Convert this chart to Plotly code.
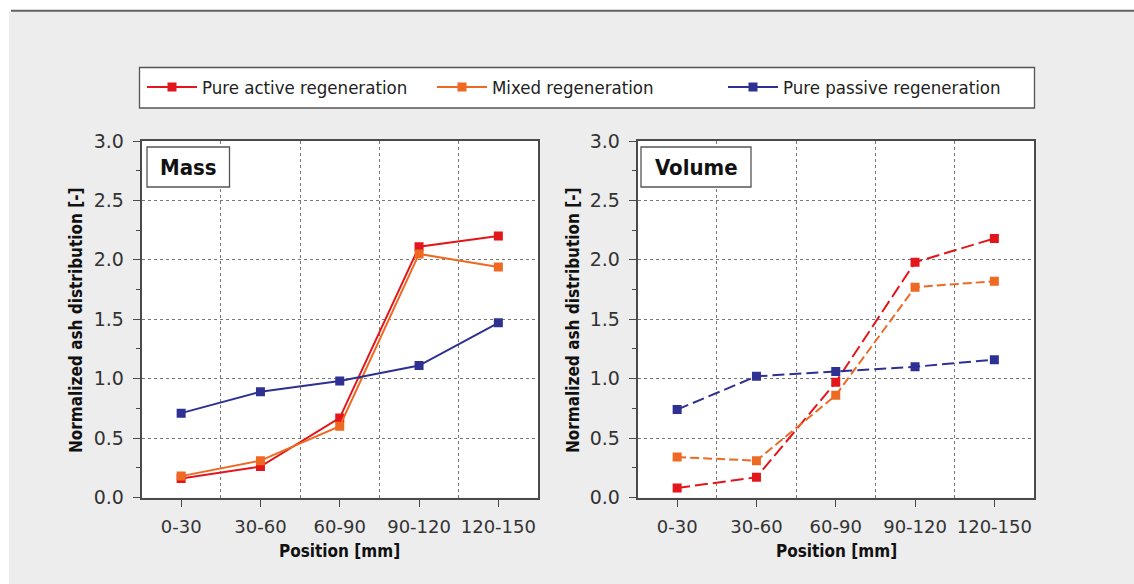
import plotly.graph_objects as go

W, H = 1134, 584

# ---------------- data ----------------
positions = ["0-30", "30-60", "60-90", "90-120", "120-150"]

mass_active = [0.16, 0.26, 0.67, 2.11, 2.20]
mass_mixed = [0.18, 0.31, 0.60, 2.05, 1.94]
mass_passive = [0.71, 0.89, 0.98, 1.11, 1.47]

vol_active = [0.08, 0.17, 0.97, 1.98, 2.18]
vol_mixed = [0.34, 0.31, 0.86, 1.77, 1.82]
vol_passive = [0.74, 1.02, 1.06, 1.10, 1.16]

series_names = ["Pure active regeneration", "Mixed regeneration", "Pure passive regeneration"]
series_colors = ["#e3161b", "#ee6a22", "#2e3192"]
vol_dashes = ["13px,5px", "9px,4px", "12px,5px"]

y_ticks = [0.0, 0.5, 1.0, 1.5, 2.0, 2.5, 3.0]

# ---------------- helpers ----------------
def px(x):
    return x / W


def py(y):
    return 1 - y / H


COND = "DejaVu Sans Condensed, Liberation Sans Narrow, Arial Narrow, sans-serif"
REG = "DejaVu Sans, Liberation Sans, Arial, sans-serif"
AXC = "#4a4a4a"

xidx = list(range(len(positions)))

fig = go.Figure()

legends = ["legend", "legend2", "legend3"]
mass_data = [mass_active, mass_mixed, mass_passive]
vol_data = [vol_active, vol_mixed, vol_passive]

for i in range(3):
    fig.add_trace(go.Scatter(
        x=xidx, y=mass_data[i], mode="lines+markers", name=series_names[i],
        line=dict(color=series_colors[i], width=2),
        marker=dict(symbol="square", size=9, color=series_colors[i]),
        xaxis="x", yaxis="y", legend=legends[i], showlegend=True,
    ))
for i in range(3):
    fig.add_trace(go.Scatter(
        x=xidx, y=vol_data[i], mode="lines+markers", name=series_names[i],
        line=dict(color=series_colors[i], width=2, dash=vol_dashes[i]),
        marker=dict(symbol="square", size=9, color=series_colors[i]),
        xaxis="x2", yaxis="y2", showlegend=False,
    ))

# axes
ydom = [py(497.5), py(141)]
x1dom = [px(141.5), px(538)]
x2dom = [px(637.5), px(1034)]

def xaxis(dom, anchor):
    return dict(
        domain=dom, anchor=anchor, range=[-0.5, len(positions) - 0.5],
        tickmode="array", tickvals=xidx, ticktext=positions,
        ticks="outside", ticklen=8, tickwidth=1.2, tickcolor=AXC,
        showline=True, linecolor=AXC, linewidth=1.6, mirror=True,
        showgrid=False, zeroline=False, automargin=False,
        tickfont=dict(family=REG, size=18, color="#333333"),
        ticklabelstandoff=4,
        minor=dict(tickvals=[k + 0.5 for k in xidx[:-1]], showgrid=True,
                   gridcolor="#777777", griddash="dot", gridwidth=1, ticks=""),
        fixedrange=True,
    )

def yaxis(anchor):
    return dict(
        domain=ydom, anchor=anchor, range=[0, 3],
        tickmode="array", tickvals=y_ticks, tickformat=".1f",
        ticks="outside", ticklen=7, tickwidth=1.2, tickcolor=AXC,
        showline=True, linecolor=AXC, linewidth=1.6, mirror=True,
        showgrid=True, gridcolor="#777777", griddash="dot", gridwidth=1,
        zeroline=False, automargin=False,
        tickfont=dict(family=REG, size=19, color="#333333"),
        ticklabelstandoff=5,
        minor=dict(dtick=0.25, tick0=0, ticks="outside", ticklen=4,
                   tickwidth=1.2, tickcolor=AXC, showgrid=False),
        fixedrange=True,
    )

shapes = [
    # grey panel
    dict(type="rect", xref="paper", yref="paper", x0=px(9), x1=1, y0=0, y1=py(11),
         fillcolor="#ededed", line=dict(width=0), layer="below"),
    # top rule
    dict(type="line", xref="paper", yref="paper", x0=px(11), x1=1, y0=py(10.8), y1=py(10.8),
         line=dict(color="#606060", width=2), layer="below"),
    # plot backgrounds
    dict(type="rect", xref="paper", yref="paper", x0=x1dom[0], x1=x1dom[1], y0=ydom[0], y1=ydom[1],
         fillcolor="white", line=dict(width=0), layer="below"),
    dict(type="rect", xref="paper", yref="paper", x0=x2dom[0], x1=x2dom[1], y0=ydom[0], y1=ydom[1],
         fillcolor="white", line=dict(width=0), layer="below"),
    # legend box
    dict(type="rect", xref="paper", yref="paper", x0=px(139.5), x1=px(1034.5), y0=py(108), y1=py(67.5),
         fillcolor="white", line=dict(color="#555555", width=1.3), layer="below"),
    # label boxes
    dict(type="rect", xref="paper", yref="paper", x0=px(147), x1=px(229.5), y0=py(187), y1=py(147),
         fillcolor="white", line=dict(color="#555555", width=1.3), layer="above"),
    dict(type="rect", xref="paper", yref="paper", x0=px(641), x1=px(751), y0=py(187), y1=py(147),
         fillcolor="white", line=dict(color="#555555", width=1.3), layer="above"),
]

annotations = [
    dict(text="<b>Mass</b>", xref="paper", yref="paper", x=px(188.5), y=py(167),
         xanchor="center", yanchor="middle", showarrow=False,
         font=dict(family=COND, size=22, color="#111111")),
    dict(text="<b>Volume</b>", xref="paper", yref="paper", x=px(696), y=py(167),
         xanchor="center", yanchor="middle", showarrow=False,
         font=dict(family=COND, size=22, color="#111111")),
    dict(text="<b>Normalized ash distribution [-]</b>", xref="paper", yref="paper",
         x=px(76), y=py(320), textangle=-90, xanchor="center", yanchor="middle",
         showarrow=False, font=dict(family=COND, size=17, color="#111111")),
    dict(text="<b>Normalized ash distribution [-]</b>", xref="paper", yref="paper",
         x=px(573), y=py(320), textangle=-90, xanchor="center", yanchor="middle",
         showarrow=False, font=dict(family=COND, size=17, color="#111111")),
    dict(text="<b>Position [mm]</b>", xref="paper", yref="paper", x=px(339.5), y=py(551),
         xanchor="center", yanchor="middle", showarrow=False,
         font=dict(family=COND, size=17, color="#111111")),
    dict(text="<b>Position [mm]</b>", xref="paper", yref="paper", x=px(836), y=py(551),
         xanchor="center", yanchor="middle", showarrow=False,
         font=dict(family=COND, size=17, color="#111111")),
]

leg_x = [142, 432, 723]
leg_common = dict(orientation="v", bgcolor="rgba(0,0,0,0)", borderwidth=0,
                  itemwidth=50, xanchor="left", yanchor="middle", y=py(87.5),
                  font=dict(family=COND, size=18.5, color="#222222"),
                  itemclick=False, itemdoubleclick=False)

layout_legends = {}
for i, name in enumerate(legends):
    d = dict(leg_common)
    d["x"] = px(leg_x[i])
    layout_legends[name] = d

fig.update_layout(
    width=W, height=H,
    margin=dict(l=0, r=0, t=0, b=0, autoexpand=False),
    paper_bgcolor="white", plot_bgcolor="white",
    xaxis=xaxis(x1dom, "y"), yaxis=yaxis("x"),
    xaxis2=xaxis(x2dom, "y2"), yaxis2=yaxis("x2"),
    shapes=shapes, annotations=annotations,
    **layout_legends,
)

fig.write_html(
    "out.html",
    config={"displayModeBar": False},
    post_script="document.body.style.margin='0';document.body.style.padding='0';",
)
